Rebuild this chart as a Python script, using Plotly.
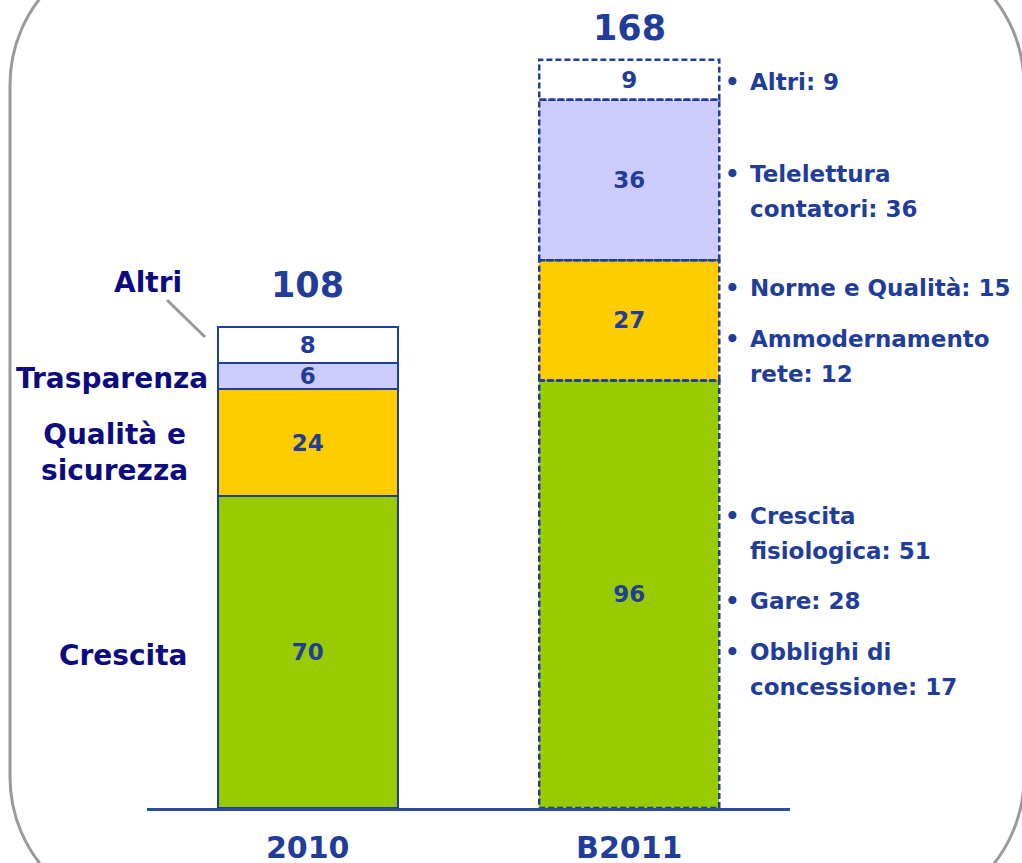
import plotly.graph_objects as go

# dati
categories = ["2010", "B2011"]
segments = ["Crescita", "Qualità e sicurezza", "Trasparenza", "Altri"]
crescita = [70, 96]
qualita = [24, 27]
trasparenza = [6, 36]
altri = [8, 9]
totals = [108, 168]

# dettaglio B2011 (testo a destra)
detail_names = ["Altri", "Telelettura\ncontatori", "Norme e Qualità", "Ammodernamento\nrete",
                "Crescita\nfisiologica", "Gare", "Obblighi di\nconcessione"]
detail_values = [9, 36, 15, 12, 51, 28, 17]

left_labels = ["Crescita", "Qualità e<br>sicurezza", "Trasparenza", "Altri"]

series = [crescita, qualita, trasparenza, altri]
colors = ["#99cc00", "#ffcc00", "#ccccff", "#ffffff"]

BLUE = "#1f3d99"
NAVY = "#0c0c80"
FONT = "DejaVu Sans, Verdana, sans-serif"

W, H = 1022, 863
ML, MR, MB = 147, 232, 55
PW, PH = W - ML - MR, H - MB


def fx(px):
    return (px - ML) / PW


def fy(py):
    return (PH - py) / PH


fig = go.Figure()
for name, vals, col in zip(segments, series, colors):
    fig.add_trace(go.Bar(
        x=categories, y=vals, name=name, width=0.56,
        marker=dict(color=col, line=dict(color=BLUE, width=[2, 0])),
        text=vals, textposition="inside", insidetextanchor="middle", textangle=0,
        textfont=dict(family=FONT, size=23, color=BLUE, weight="bold"),
        hoverinfo="skip", showlegend=False,
    ))

shapes = []
# bordi tratteggiati B2011
base = 0
for vals in series:
    shapes.append(dict(type="rect", xref="x", yref="y", x0=1 - 0.28, x1=1 + 0.28,
                       y0=base, y1=base + vals[1],
                       line=dict(color=BLUE, width=2.5, dash="6px,3px"), layer="above"))
    base += vals[1]

# cornice arrotondata
L, Rr, T, B, R = 10, 1024, -55, 917, 140
k = 0.5523 * R
pts = [
    ("M", [(L, T + R)]), ("L", [(L, B - R)]),
    ("C", [(L, B - R + k), (L + R - k, B), (L + R, B)]), ("L", [(Rr - R, B)]),
    ("C", [(Rr - R + k, B), (Rr, B - R + k), (Rr, B - R)]), ("L", [(Rr, T + R)]),
    ("C", [(Rr, T + R - k), (Rr - R + k, T), (Rr - R, T)]), ("L", [(L + R, T)]),
    ("C", [(L + R - k, T), (L, T + R - k), (L, T + R)]),
]
path = " ".join(cmd + " " + " ".join(f"{fx(a):.5f},{fy(b):.5f}" for a, b in p) for cmd, p in pts) + " Z"
shapes.append(dict(type="path", xref="paper", yref="paper", path=path,
                   line=dict(color="#9a9a9a", width=3), layer="below"))

# linea guida "Altri"
shapes.append(dict(type="line", xref="paper", yref="paper", x0=fx(167), y0=fy(300),
                   x1=fx(205), y1=fy(337), line=dict(color="#999999", width=3)))

annotations = []
# totali
for i, (tot, ypx) in enumerate(zip(totals, [285, 28])):
    annotations.append(dict(x=i, xref="x", y=fy(ypx), yref="paper", text=str(tot),
                            xanchor="center", yanchor="middle", showarrow=False,
                            font=dict(family=FONT, size=35, color=BLUE, weight="bold")))

# etichette a sinistra
left_pos = [(190, 655, "right"), (190, 452, "right"), (210, 378, "right"), (148, 282, "center")]
for txt, (xp, yp, anc) in zip(left_labels, left_pos):
    annotations.append(dict(x=fx(xp), xref="paper", y=fy(yp), yref="paper", text=txt,
                            xanchor=anc, yanchor="middle", align="center", showarrow=False,
                            font=dict(family=FONT, size=28, color=NAVY, weight="bold")))

# dettaglio a destra
first_y = [82, 174, 288, 339, 516, 601, 652]
for name, val, yp in zip(detail_names, detail_values, first_y):
    lines = f"{name}: {val}".split("\n")
    for i, ln in enumerate(lines):
        annotations.append(dict(x=fx(748), xref="paper", y=fy(yp + 35 * i), yref="paper",
                                text=ln, xanchor="left", yanchor="middle", showarrow=False,
                                font=dict(family=FONT, size=23, color=BLUE, weight="bold")))
    annotations.append(dict(x=fx(732), xref="paper", y=fy(yp), yref="paper", text="•",
                            xanchor="center", yanchor="middle", showarrow=False,
                            font=dict(family=FONT, size=23, color=BLUE, weight="bold")))

fig.update_layout(
    barmode="stack",
    width=W, height=H,
    margin=dict(l=ML, r=MR, t=0, b=MB, pad=0, autoexpand=False),
    paper_bgcolor="white", plot_bgcolor="white",
    shapes=shapes, annotations=annotations,
    uniformtext=dict(minsize=23, mode="show"),
    xaxis=dict(type="category", range=[-0.5, 1.5], showline=True, linecolor="#2b4aa0",
               linewidth=3, showgrid=False, zeroline=False, ticks="", automargin=False,
               ticklabelstandoff=11,
               tickfont=dict(family=FONT, size=30, color=BLUE, weight="bold")),
    yaxis=dict(range=[0, PH / 4.454], visible=False, fixedrange=True, automargin=False),
)

fig.write_html("out.html", config={"displayModeBar": False},
               post_script="document.body.style.margin='0';document.body.style.overflow='hidden';")
